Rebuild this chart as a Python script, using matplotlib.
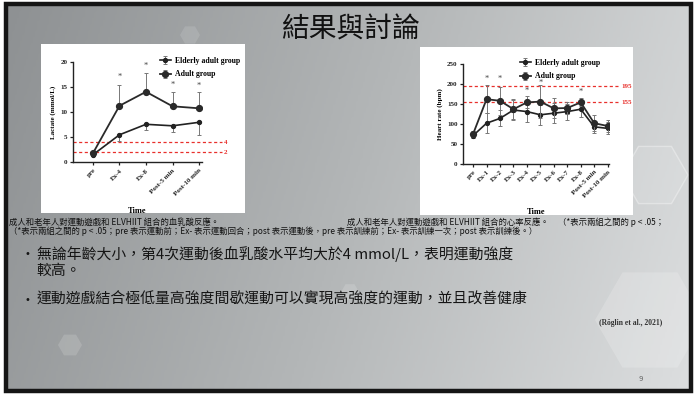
import numpy as np
import matplotlib.pyplot as plt
from matplotlib.colors import LinearSegmentedColormap
from matplotlib.patches import Rectangle, RegularPolygon

CJK = ['Noto Sans CJK TC', 'DejaVu Sans']
SERIF = 'Liberation Serif'

# lactate panel
lac_times = ['pre', 'Ex-4', 'Ex-8', 'Post-5 min', 'Post-10 min']
lac_elderly = [1.5, 5.5, 7.6, 7.3, 8.0]
lac_elderly_sd = [0.3, 1.2, 1.2, 1.3, 2.6]
lac_adult = [1.8, 11.3, 14.1, 11.2, 10.8]
lac_adult_sd = [0.4, 4.2, 3.7, 2.9, 3.2]
lac_star_idx = [1, 2, 3, 4]
lac_star_y = [17.0, 19.2, 15.4, 15.2]
lac_refs = [4, 2]

# heart rate panel
hr_times = ['pre', 'Ex-1', 'Ex-2', 'Ex-3', 'Ex-4', 'Ex-5', 'Ex-6', 'Ex-7', 'Ex-8',
            'Post-5 min', 'Post-10 min']
hr_elderly = [71, 102, 114, 135, 131, 123, 127, 131, 137, 93, 89]
hr_elderly_sd = [5, 25, 20, 25, 25, 25, 25, 20, 20, 15, 15]
hr_adult = [75, 162, 158, 137, 154, 156, 139, 140, 154, 102, 95]
hr_adult_sd = [8, 35, 35, 25, 15, 42, 25, 15, 10, 20, 15]
hr_star_idx = [1, 2, 4, 5, 8]
hr_star_y = [213, 213, 183, 202, 180]
hr_refs = [195, 155]

fig = plt.figure(figsize=(6.94, 3.96), dpi=100, facecolor='white')
bg = fig.add_axes([0, 0, 1, 1])
bg.set_xlim(0, 694)
bg.set_ylim(396, 0)
bg.axis('off')

# slide background
cmap = LinearSegmentedColormap.from_list('slide', ['#8e9193', '#b3b6b7', '#dcdedf'])
xx = np.linspace(0, 1, 300)
yy = np.linspace(0, 1, 120)[:, None]
grad = xx[None, :] * 0.85 + yy * 0.15
bg.imshow(grad, extent=[8, 690, 390, 5], cmap=cmap, aspect='auto', zorder=0)
for (cx, cy, r, a) in [(650, 320, 55, 0.18), (655, 175, 33, 0.1), (70, 345, 12, 0.15),
                       (350, 292, 9, 0.15), (190, 35, 10, 0.12)]:
    bg.add_patch(RegularPolygon((cx, cy), 6, radius=r, orientation=np.pi / 6,
                                fc='white', ec='none', alpha=a, zorder=1))
bg.add_patch(RegularPolygon((655, 175), 6, radius=33, orientation=np.pi / 6,
                            fc='none', ec='white', lw=1.0, alpha=0.35, zorder=1))
bg.add_patch(Rectangle((6, 3.5), 685.5, 387.5, fill=False, ec='#151515', lw=3.2, zorder=5))

# white panels behind the charts
bg.add_patch(Rectangle((41, 44), 204, 169, fc='white', ec='none', zorder=2))
bg.add_patch(Rectangle((420, 47), 213, 168, fc='white', ec='none', zorder=2))


def draw_panel(rect, times, elderly, elderly_err, adult, adult_err, star_idx, star_y,
               ylim, yticks, ylabel, refs, ref_end, xmax, legend_xy):
    ax = fig.add_axes(rect)
    ax.patch.set_alpha(0)
    x = np.arange(len(times))
    ax.errorbar(x, elderly, yerr=elderly_err, color='#222222', ecolor='#777777', lw=1.2,
                elinewidth=0.7, capsize=1.5, capthick=0.7, marker='o', ms=2.8,
                label='Elderly adult group', zorder=3)
    ax.errorbar(x, adult, yerr=adult_err, color='#2a2a2a', ecolor='#777777', lw=1.3,
                elinewidth=0.7, capsize=1.5, capthick=0.7, marker='o', ms=4.2,
                label='Adult group', zorder=4)
    for i, sy in zip(star_idx, star_y):
        ax.text(x[i], sy, '*', ha='center', va='center', fontsize=6, color='#444444',
                family=SERIF)
    for r in refs:
        ax.plot([-0.75, ref_end], [r, r], ls=(0, (2.5, 2)), color='#e8302c', lw=0.9,
                clip_on=False, zorder=2)
        ax.text(ref_end + 0.05 * (xmax + 0.75) / 5, r, str(r), color='#e8302c', fontsize=5,
                fontweight='bold', family=SERIF, va='center', ha='left')
    ax.set_xlim(-0.75, xmax)
    ax.set_ylim(*ylim)
    ax.set_yticks(yticks)
    ax.set_xticks(x)
    ax.set_xticklabels(times, rotation=45, ha='right', rotation_mode='anchor')
    for lab in ax.get_xticklabels() + ax.get_yticklabels():
        lab.set_family(SERIF)
        lab.set_fontweight('bold')
        lab.set_fontsize(5)
    for s in ['top', 'right']:
        ax.spines[s].set_visible(False)
    for s in ['left', 'bottom']:
        ax.spines[s].set_linewidth(1.0)
        ax.spines[s].set_color('#222222')
    ax.tick_params(length=2.5, width=0.9, pad=1.5, colors='#222222')
    ax.set_ylabel(ylabel, family=SERIF, fontweight='bold', fontsize=5, labelpad=3)
    ax.set_xlabel('Time', family=SERIF, fontweight='bold', fontsize=6, labelpad=7)
    ax.legend(loc='upper left', bbox_to_anchor=(legend_xy[0] / 694, 1 - legend_xy[1] / 396),
              bbox_transform=fig.transFigure, frameon=False, handlelength=1.4,
              handletextpad=0.6, labelspacing=0.7, borderpad=0,
              prop={'family': SERIF, 'weight': 'bold', 'size': 5.6})
    return ax


draw_panel([73 / 694, 1 - 162.3 / 396, 129 / 694, 100 / 396], lac_times,
           lac_elderly, [lac_elderly_sd, [0] * 5], lac_adult, [[0] * 5, lac_adult_sd],
           lac_star_idx, lac_star_y, (0, 20), [0, 5, 10, 15, 20], 'Lactate (mmol/L)',
           lac_refs, 4.87, 4.11, (156, 53))

draw_panel([463 / 694, 1 - 164 / 396, 146 / 694, 100 / 396], hr_times,
           hr_elderly, hr_elderly_sd, hr_adult, hr_adult_sd,
           hr_star_idx, hr_star_y, (0, 250), [0, 50, 100, 150, 200, 250], 'Heart rate (bpm)',
           hr_refs, 10.9, 10.1, (516, 55))

# title
bg.text(350, 30, '結果與討論', ha='center', va='center', fontsize=20, family=CJK,
        fontweight='medium', color='#111111', zorder=6)

# figure captions
cap = dict(fontsize=6.0, family=CJK, color='#111111', va='center', ha='left', zorder=6)
bg.text(9, 222, '成人和老年人對運動遊戲和 ELVHIIT 組合的血乳酸反應。', **cap)
bg.text(9, 231, '（*表示兩組之間的 p < .05；pre 表示運動前；Ex- 表示運動回合；post 表示運動後，'
        'pre 表示訓練前；Ex- 表示訓練一次；post 表示訓練後。）', **cap)
bg.text(347, 222, '成人和老年人對運動遊戲和 ELVHIIT 組合的心率反應。', **cap)
bg.text(558, 222, '（*表示兩組之間的 p < .05；', **cap)

# bullet points
bul = dict(fontsize=10.7, family=CJK, color='#151515', va='center', ha='left', zorder=6)
bg.text(27, 254, '•', ha='center', va='center', fontsize=7, color='#151515', zorder=6)
bg.text(37, 254, '無論年齡大小，第4次運動後血乳酸水平均大於4 mmol/L，表明運動強度', **bul)
bg.text(36, 271, '較高。', **bul)
bg.text(27, 300, '•', ha='center', va='center', fontsize=7, color='#151515', zorder=6)
bg.text(37, 300, '運動遊戲結合極低量高強度間歇運動可以實現高強度的運動，並且改善健康', **bul)

bg.text(631, 323, '(Röglin et al., 2021)', ha='center', va='center', fontsize=5.5,
        family=SERIF, fontweight='bold', color='#333333', zorder=6)
bg.text(641, 379, '9', ha='center', va='center', fontsize=5, color='#666666', zorder=6)

fig.savefig('out.png', dpi=100, facecolor='white')
